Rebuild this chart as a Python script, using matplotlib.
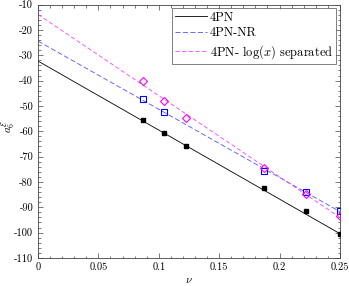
import numpy as np
import matplotlib
matplotlib.use("Agg")
import matplotlib.pyplot as plt
from matplotlib.ticker import MultipleLocator

plt.rcParams['font.family'] = ['cmr10', 'DejaVu Serif']
plt.rcParams['mathtext.fontset'] = 'cm'
plt.rcParams['axes.formatter.use_mathtext'] = True

# data points
nu_4pn = [0.0867, 0.1045, 0.1224, 0.1875, 0.2222, 0.25]
a6_4pn = [-55.5, -60.8, -65.8, -82.4, -91.4, -100.7]

nu_nr = [0.0867, 0.1045, 0.1875, 0.2222, 0.25]
a6_nr = [-47.4, -52.4, -75.6, -83.8, -91.6]

nu_log = [0.0867, 0.1045, 0.1224, 0.1875, 0.2222, 0.25]
a6_log = [-40.0, -48.0, -54.8, -74.5, -84.9, -93.3]

# fitted lines (value at nu=0 and nu=0.25)
line_nu = [0.0, 0.25]
line_4pn = [-32.3, -100.4]
line_nr = [-24.4, -91.7]
line_log = [-13.9, -94.0]

fig = plt.figure(figsize=(3.49, 2.86), dpi=100)
ax = fig.add_axes([0.109, 0.098, 0.865, 0.886])

ax.plot(line_nu, line_4pn, color='black', lw=0.6, label='4PN')
ax.plot(line_nu, line_nr, color='#5050ff', lw=0.6, dashes=(6, 3), label='4PN-NR')
ax.plot(line_nu, line_log, color='#ff40ff', lw=0.6, dashes=(5, 3), label=r'4PN- $\log(x)$ separated')

ax.plot(nu_4pn, a6_4pn, 's', color='black', ms=3.2, zorder=5)
ax.plot(nu_nr, a6_nr, 's', mfc='none', mec='#0000ff', mew=0.8, ms=5, zorder=5)
ax.plot(nu_log, a6_log, 'D', mfc='none', mec='#ff00ff', mew=0.8, ms=4.5, zorder=5)

ax.set_xlim(0, 0.25)
ax.set_ylim(-110, -10)
ax.xaxis.set_minor_locator(MultipleLocator(0.01))
ax.yaxis.set_minor_locator(MultipleLocator(2))
ax.set_xticks([0, 0.05, 0.1, 0.15, 0.2, 0.25])
ax.set_xticklabels(['0', '0.05', '0.1', '0.15', '0.2', '0.25'])
ax.set_yticks(np.arange(-110, -9, 10))
ax.set_yticklabels(['-%d' % v for v in range(110, 9, -10)])
ax.tick_params(which='both', direction='in', top=True, right=True, labelsize=7.5, width=0.5, color='#444444')
ax.tick_params(which='major', length=3.5)
ax.tick_params(which='minor', length=1.8)
for s in ax.spines.values():
    s.set_linewidth(0.6)
    s.set_color('#444444')

ax.set_xlabel(r'$\nu$', fontsize=8, labelpad=2)
ax.set_ylabel(r'$a_6^{\mathcal{E}}$', fontsize=8)
ax.yaxis.set_label_coords(-0.07, 0.52)

leg = ax.legend(loc='upper right', fontsize=9, frameon=True, fancybox=False,
                edgecolor='#444444', handlelength=2.6, handletextpad=0.2,
                borderpad=0.25, labelspacing=0.3, borderaxespad=0.3)
leg.get_frame().set_linewidth(0.6)

plt.savefig('out.png', dpi=100)
